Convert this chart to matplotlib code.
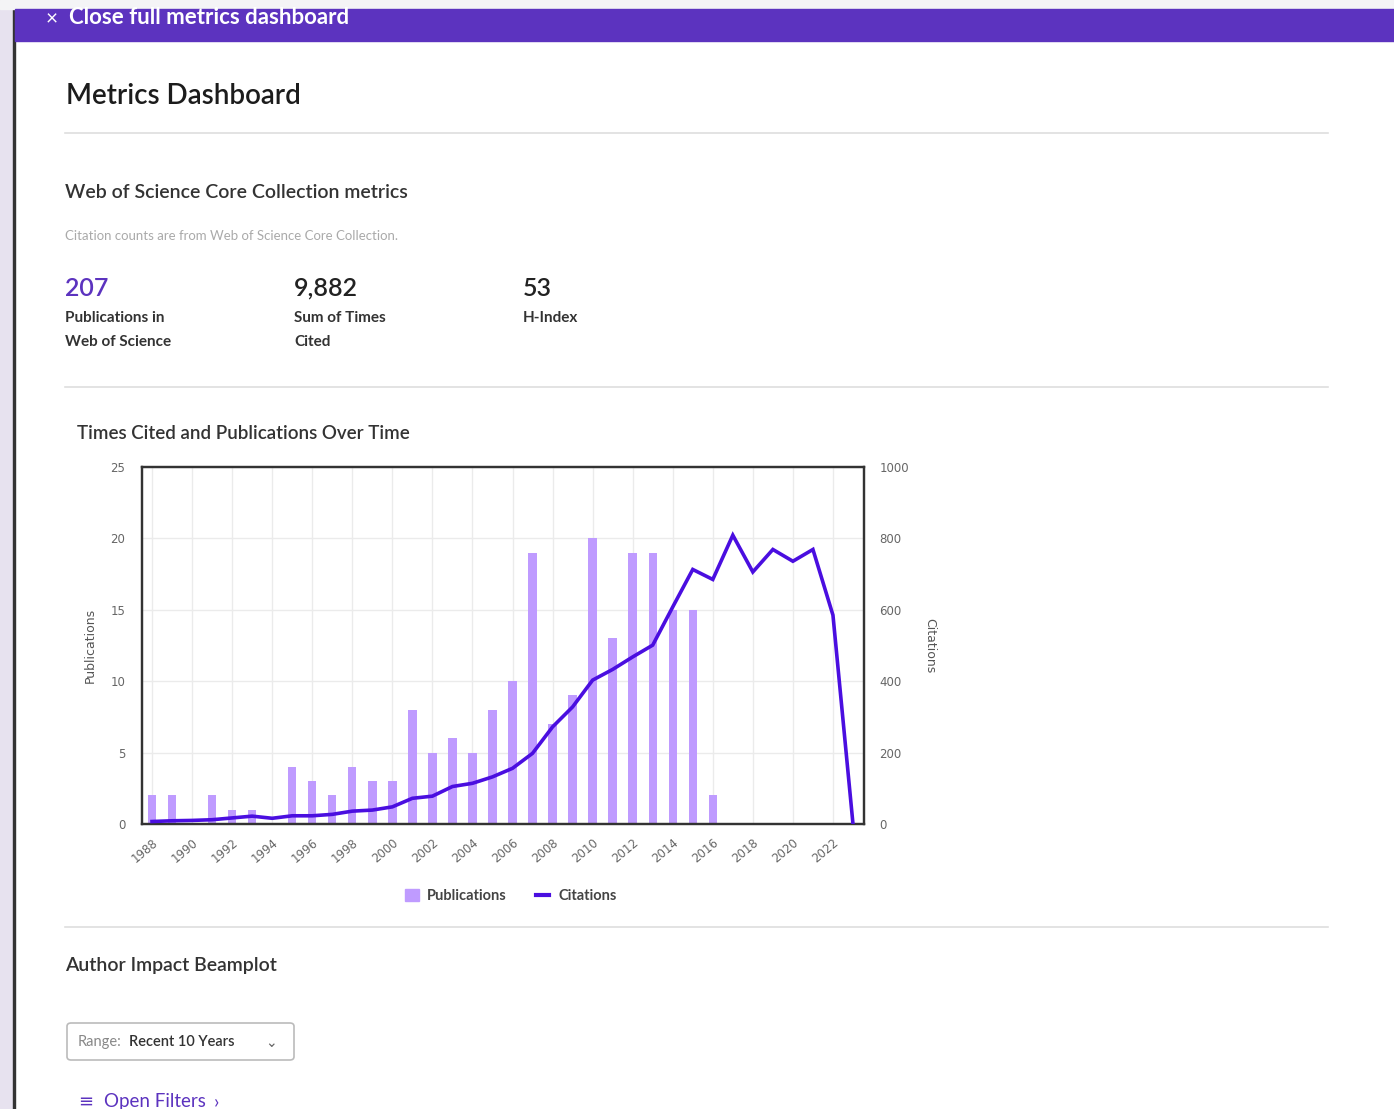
import numpy as np
import matplotlib
matplotlib.use("Agg")
from matplotlib import pyplot as plt
from matplotlib.patches import Rectangle, FancyBboxPatch
from matplotlib.lines import Line2D

W, H = 1394, 1109

years = list(range(1988, 2024))
publications = [2, 2, 0, 2, 1, 1, 0, 4, 3, 2, 4, 3, 3, 8, 5, 6, 5, 8, 10,
                19, 7, 9, 20, 13, 19, 19, 15, 15, 2, 0, 0, 0, 0, 0, 0, 0]
citations = [7, 9, 10, 12, 17, 22, 16, 23, 23, 27, 36, 39, 48, 72, 78, 105, 114,
             132, 156, 198, 272, 328, 403, 433, 468, 501, 608, 713, 685, 809,
             706, 769, 736, 769, 585, 0]
tick_years = list(range(1988, 2023, 2))

summary_values = ["207", "9,882", "53"]
summary_labels = [["Publications in", "Web of Science"], ["Sum of Times", "Cited"], ["H-Index"]]

PURPLE = "#5c33bf"
BAR = "#bf9bff"
LINE = "#4a0ee0"
UI_FONT = ["Lato", "DejaVu Sans"]
TICK_FONT = ["DejaVu Sans"]

def fx(x):
    return x / W

def fy(y):
    return 1 - y / H

fig = plt.figure(figsize=(W / 100, H / 100), dpi=100)
fig.patch.set_facecolor("white")

# page chrome
fig.add_artist(Rectangle((0, 0), fx(13), 1, transform=fig.transFigure, color="#e7e2ef", zorder=0))
fig.add_artist(Rectangle((fx(13), 0), fx(2), 1, transform=fig.transFigure, color="#333333", zorder=1))
fig.add_artist(Rectangle((0, fy(9)), 1, fy(0) - fy(9), transform=fig.transFigure, color="#f4f4f6", zorder=1))
fig.add_artist(Rectangle((fx(15), fy(41)), 1, fy(9) - fy(41), transform=fig.transFigure, color=PURPLE, zorder=1))
fig.text(fx(46), fy(19), "\u00d7", color="white", fontsize=15, va="center", family=UI_FONT)
fig.text(fx(69), fy(18), "Close full metrics dashboard", color="white", fontsize=16,
         fontweight="bold", va="center", family=UI_FONT)

fig.text(fx(66), fy(96), "Metrics Dashboard", fontsize=20, color="#1c1c1c", va="center",
         family=UI_FONT, fontweight="semibold")
for yy in [133, 387, 927]:
    fig.add_artist(Line2D([fx(65), fx(1328)], [fy(yy), fy(yy)], color="#dedede", lw=1.2,
                          transform=fig.transFigure))

fig.text(fx(65), fy(193), "Web of Science Core Collection metrics", fontsize=14, color="#333333",
         va="center", family=UI_FONT, fontweight="semibold")
fig.text(fx(65), fy(236), "Citation counts are from Web of Science Core Collection.", fontsize=9.5,
         color="#aaaaaa", va="center", family=UI_FONT)

for i, (val, lab) in enumerate(zip(summary_values, summary_labels)):
    x0 = 65 + i * 229
    fig.text(fx(x0), fy(288), val, fontsize=18, color=PURPLE if i == 0 else "#222222",
             va="center", family=UI_FONT, fontweight="semibold")
    for j, line in enumerate(lab):
        fig.text(fx(x0), fy(318 + j * 24), line, fontsize=11, color="#333333", va="center",
                 family=UI_FONT, fontweight="bold")

fig.text(fx(77), fy(433), "Times Cited and Publications Over Time", fontsize=13.5, color="#333333",
         va="center", family=UI_FONT, fontweight="semibold")

# chart
ax = fig.add_axes([fx(142), fy(824), fx(864) - fx(142), fy(467) - fy(824)])
ax.bar(years, publications, width=0.42, color=BAR, zorder=2)
ax.set_ylim(0, 25)
ax.set_xlim(1987.5, 2023.55)
ax.set_yticks(range(0, 26, 5))
ax.set_xticks(tick_years)
ax.set_xticklabels([str(y) for y in tick_years], rotation=40, ha="right", rotation_mode="anchor")
ax.grid(True, color="#ebebeb", lw=1, zorder=0)
ax.set_axisbelow(True)
for sp in ax.spines.values():
    sp.set_color("#333333")
    sp.set_linewidth(1.6)
ax.tick_params(length=0, labelsize=8.5, labelcolor="#666666", pad=12)
ax.tick_params(axis="x", pad=9)
for lab in ax.get_xticklabels() + ax.get_yticklabels():
    lab.set_family(TICK_FONT)
ax.set_ylabel("Publications", fontsize=9, color="#555555", family=TICK_FONT, labelpad=10)

ax2 = ax.twinx()
ax2.plot(years, citations, color=LINE, lw=2.6, zorder=3, solid_joinstyle="miter")
ax2.set_ylim(0, 1000)
ax2.set_yticks(range(0, 1001, 200))
ax2.tick_params(length=0, labelsize=8.5, labelcolor="#666666", pad=11)
for lab in ax2.get_yticklabels():
    lab.set_family(TICK_FONT)
    lab.set_ha("left")
for sp in ax2.spines.values():
    sp.set_color("#333333")
    sp.set_linewidth(1.6)
ax2.set_ylabel("Citations", fontsize=9, color="#555555", family=TICK_FONT, rotation=270,
               labelpad=20)

handles = [Rectangle((0, 0), 1, 1, color=BAR), Line2D([], [], color=LINE, lw=3)]
fig.legend(handles, ["Publications", "Citations"], loc="center", bbox_to_anchor=(fx(511), fy(896)),
           ncol=2, frameon=False, handlelength=0.9, handleheight=0.9, columnspacing=2.0,
           handletextpad=0.6, prop={"family": UI_FONT, "size": 10.5, "weight": "bold"},
           labelcolor="#444444")

fig.text(fx(65), fy(965), "Author Impact Beamplot", fontsize=14, color="#333333", va="center",
         family=UI_FONT, fontweight="semibold")
fig.add_artist(FancyBboxPatch((fx(67), fy(1060)), fx(294) - fx(67), fy(1023) - fy(1060),
                              boxstyle="round,pad=0,rounding_size=0.003", transform=fig.transFigure,
                              facecolor="white", edgecolor="#bbbbbb", lw=1.2))
fig.text(fx(78), fy(1042), "Range:", fontsize=10.5, color="#888888", va="center", family=UI_FONT)
fig.text(fx(129), fy(1042), "Recent 10 Years", fontsize=10.5, color="#333333", va="center",
         family=UI_FONT, fontweight="semibold")
fig.text(fx(271), fy(1043), "\u2304", fontsize=10, color="#666666", va="center", ha="center",
         family=["DejaVu Sans"])
fig.text(fx(78), fy(1102), "\u2261", fontsize=13, color=PURPLE, va="center", family=["DejaVu Sans"])
fig.text(fx(104), fy(1102), "Open Filters", fontsize=13.5, color=PURPLE, va="center",
         family=UI_FONT)
fig.text(fx(214), fy(1102), "\u203a", fontsize=13.5, color=PURPLE, va="center", family=UI_FONT)

fig.savefig("out.png", dpi=100)
